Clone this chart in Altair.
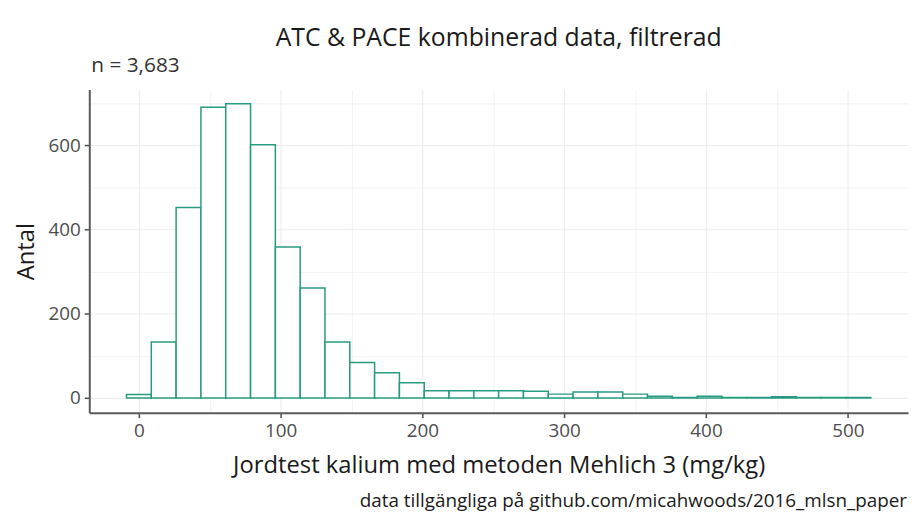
import altair as alt
import pandas as pd

bin_start = [-8.75, 8.75, 26.25, 43.75, 61.25, 78.75, 96.25, 113.75, 131.25, 148.75,
             166.25, 183.75, 201.25, 218.75, 236.25, 253.75, 271.25, 288.75, 306.25, 323.75,
             341.25, 358.75, 376.25, 393.75, 411.25, 428.75, 446.25, 463.75, 481.25, 498.75]
bin_end = [8.75, 26.25, 43.75, 61.25, 78.75, 96.25, 113.75, 131.25, 148.75, 166.25,
           183.75, 201.25, 218.75, 236.25, 253.75, 271.25, 288.75, 306.25, 323.75, 341.25,
           358.75, 376.25, 393.75, 411.25, 428.75, 446.25, 463.75, 481.25, 498.75, 516.25]
counts = [8, 133, 452, 690, 698, 601, 358, 261, 133, 84,
          60, 36, 17, 17, 17, 17, 16, 9, 14, 14,
          9, 4, 1, 4, 1, 1, 3, 1, 1, 1]

x_ticks = [0, 50, 100, 150, 200, 250, 300, 350, 400, 450, 500]
y_ticks = [0, 100, 200, 300, 400, 500, 600, 700]

title_text = "ATC & PACE kombinerad data, filtrerad"
subtitle_text = "n = 3,683"
x_title = "Jordtest kalium med metoden Mehlich 3 (mg/kg)"
y_title = "Antal"
caption_text = "data tillgängliga på github.com/micahwoods/2016_mlsn_paper"

FONT = "Open Sans"
W, H = 826, 326

df = pd.DataFrame({"start": bin_start, "end": bin_end, "count": counts})

x_scale = alt.Scale(domain=[-35, 542.5], nice=False, zero=False)
y_scale = alt.Scale(domain=[-35, 732], nice=False, zero=False)

x_axis = alt.Axis(
    values=x_ticks,
    labelExpr="datum.value % 100 === 0 ? datum.label : ''",
    tickOpacity={"condition": {"test": "datum.value % 100 !== 0", "value": 0}, "value": 1},
    gridColor="#ebebeb",
    gridWidth={"condition": {"test": "datum.value % 100 !== 0", "value": 0.6}, "value": 1},
    title=x_title,
)
y_axis = alt.Axis(
    values=y_ticks,
    labelExpr="datum.value % 200 === 0 ? datum.label : ''",
    tickOpacity={"condition": {"test": "datum.value % 200 !== 0", "value": 0}, "value": 1},
    gridColor="#ebebeb",
    gridWidth={"condition": {"test": "datum.value % 200 !== 0", "value": 0.6}, "value": 1},
    title=y_title,
)

bars = alt.Chart(df).mark_rect(
    fill="white", stroke="#279b80", strokeWidth=1.5
).encode(
    x=alt.X("start:Q", scale=x_scale, axis=x_axis),
    x2="end:Q",
    y=alt.Y("count:Q", scale=y_scale, axis=y_axis),
    y2=alt.datum(0),
)

sub = alt.Chart(pd.DataFrame({"t": [subtitle_text]})).mark_text(
    align="left", baseline="middle", font=FONT, fontSize=21, color="#333333"
).encode(text="t:N", x=alt.value(2), y=alt.value(-24))

cap = alt.Chart(pd.DataFrame({"t": [caption_text]})).mark_text(
    align="right", baseline="middle", font=FONT, fontSize=19, color="#1a1a1a"
).encode(text="t:N", x=alt.value(W - 1), y=alt.value(415))

chart = alt.layer(bars, sub, cap).properties(
    width=W, height=H,
    title=alt.TitleParams(title_text, anchor="middle", font=FONT, fontSize=25,
                          fontWeight="normal", color="#1a1a1a", offset=4),
    autosize=alt.AutoSizeParams(type="none"),
    padding={"left": 82, "top": 80, "right": 3, "bottom": 102},
).configure_view(stroke=None).configure_axis(
    domainColor="#5a5a5a", domainWidth=2, tickColor="#4d4d4d", tickSize=5,
    tickWidth=1.5, labelFont=FONT, labelFontSize=19, labelColor="#4d4d4d",
    titleFont=FONT, titleFontSize=24, titleFontWeight="normal", titleColor="#1a1a1a",
    labelPadding=4,
).configure_axisX(titlePadding=13).configure_axisY(titlePadding=10)

chart.save("out.html", embed_options={"renderer": "svg", "actions": False})
